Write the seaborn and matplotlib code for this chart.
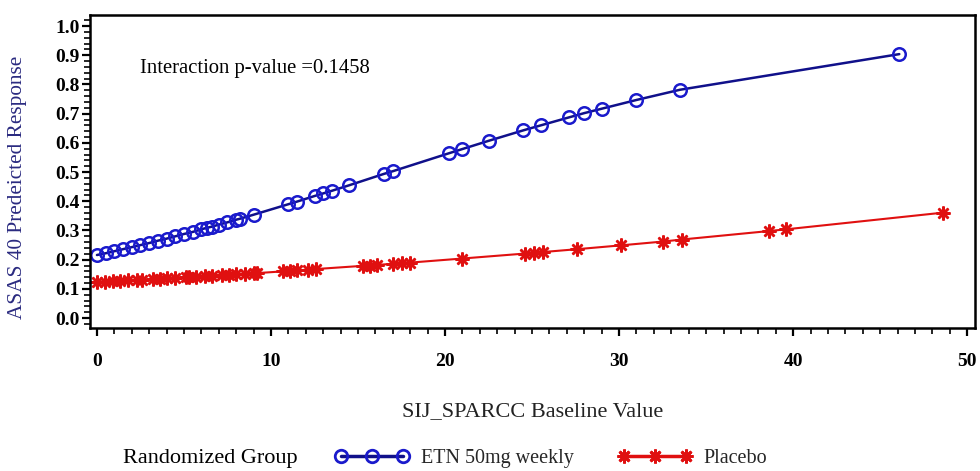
import matplotlib
matplotlib.use("Agg")
import matplotlib.pyplot as plt
from matplotlib.lines import Line2D
from matplotlib.ticker import MultipleLocator, FormatStrFormatter
import seaborn as sns
import pandas as pd

# ---- data ----
etn_x = [0, 0.5, 1.0, 1.5, 2.0, 2.5, 3.0, 3.5, 4.0, 4.5, 5.0, 5.5, 6.0, 6.3, 6.6,
         7.0, 7.5, 8.0, 8.2, 9.0, 11.0, 11.5, 12.5, 13.0, 13.5, 14.5, 16.5, 17.0,
         20.2, 21.0, 22.5, 24.5, 25.5, 27.1, 28.0, 29.0, 31.0, 33.5, 46.1]
etn_y = [0.216, 0.222, 0.229, 0.236, 0.243, 0.250, 0.257, 0.265, 0.272, 0.280,
         0.288, 0.295, 0.304, 0.309, 0.313, 0.320, 0.328, 0.337, 0.340, 0.354,
         0.390, 0.399, 0.418, 0.427, 0.436, 0.455, 0.494, 0.503, 0.564, 0.579,
         0.607, 0.643, 0.660, 0.687, 0.702, 0.717, 0.747, 0.782, 0.904]

pbo_x = [0, 0.46, 0.92, 1.3, 1.8, 2.3, 2.6, 3.2, 3.6, 4.0, 4.5, 5.1, 5.3, 5.7,
         6.2, 6.6, 7.2, 7.6, 8.0, 8.5, 9.0, 9.2, 10.7, 11.1, 11.5, 12.1, 12.6,
         15.3, 15.7, 16.1, 17.0, 17.5, 18.0, 21.0, 24.6, 25.1, 25.6, 27.6, 30.1,
         32.5, 33.6, 38.6, 39.6, 48.6]
pbo_y = [0.123, 0.1245, 0.126, 0.127, 0.129, 0.130, 0.131, 0.133, 0.135, 0.136,
         0.138, 0.140, 0.141, 0.142, 0.144, 0.145, 0.147, 0.149, 0.150, 0.152,
         0.154, 0.154, 0.160, 0.162, 0.163, 0.166, 0.168, 0.179, 0.180, 0.182,
         0.186, 0.188, 0.190, 0.204, 0.221, 0.224, 0.226, 0.236, 0.249, 0.262,
         0.269, 0.298, 0.304, 0.361]

groups = ["ETN 50mg weekly", "Placebo"]
x_ticks = [0, 10, 20, 30, 40, 50]
y_ticks = [0.0, 0.1, 0.2, 0.3, 0.4, 0.5, 0.6, 0.7, 0.8, 0.9, 1.0]

title_text = "Interaction p-value =0.1458"
xlabel = "SIJ_SPARCC Baseline Value"
ylabel = "ASAS 40 Predeicted Response"
legend_title = "Randomized Group"

df_etn = pd.DataFrame({"x": etn_x, "y": etn_y, "group": groups[0]})
df_pbo = pd.DataFrame({"x": pbo_x, "y": pbo_y, "group": groups[1]})

sns.set_theme(style="white")
plt.rcParams["font.family"] = ["Liberation Serif", "DejaVu Serif"]

fig = plt.figure(figsize=(9.8, 4.71), dpi=100)
ax = fig.add_axes([90 / 980, 1 - 328 / 471, (975 - 90) / 980, (328 - 15) / 471])

blue_line = "#10108a"
blue_mk = "#1a1acc"
red = "#e01010"

sns.lineplot(data=df_etn, x="x", y="y", ax=ax, color=blue_line, linewidth=1.8,
             marker="o", markersize=9, markerfacecolor="none",
             markeredgecolor=blue_mk, markeredgewidth=1.8, legend=False,
             estimator=None, sort=True)
sns.lineplot(data=df_pbo, x="x", y="y", ax=ax, color=red, linewidth=1.5,
             marker=(8, 2, 0), markersize=10, markeredgecolor=red,
             markeredgewidth=1.8, legend=False, estimator=None, sort=True)

ax.set_xlim(-0.4, 50.45)
ax.set_ylim(-0.034, 1.038)
ax.set_xticks(x_ticks)
ax.set_yticks(y_ticks)
ax.xaxis.set_minor_locator(MultipleLocator(1))
ax.yaxis.set_minor_locator(MultipleLocator(0.02))
ax.yaxis.set_major_formatter(FormatStrFormatter("%.1f"))
ax.tick_params(axis="both", which="major", direction="out", length=6, width=1.6,
               labelsize=14, colors="black", bottom=True, left=True)
ax.tick_params(axis="both", which="minor", direction="out", length=4, width=1.4,
               bottom=True, left=True)
ax.tick_params(axis="x", which="major", pad=12)
ax.tick_params(axis="y", which="major", pad=1.5)
for lab in ax.get_xticklabels() + ax.get_yticklabels():
    lab.set_fontweight("bold")

for s in ax.spines.values():
    s.set_visible(True)
    s.set_color("black")
    s.set_linewidth(1.8)

ax.set_xlabel(xlabel, fontsize=16, labelpad=23, color="#222222")
ax.set_ylabel(ylabel, fontsize=15.3, color="#2a2a80")
ax.yaxis.set_label_coords(-0.071, 0.45)

fig.text(140 / 980, 1 - 68 / 471, title_text, fontsize=14.9, color="black",
         va="center", ha="left")

handles = [
    Line2D([], [], color=blue_line, linewidth=2.5, marker="o", markersize=9,
           markerfacecolor="none", markeredgecolor=blue_mk, markeredgewidth=2),
    Line2D([], [], color=red, linewidth=2.5, marker=(8, 2, 0), markersize=10,
           markeredgecolor=red, markeredgewidth=2),
]
leg = fig.legend(handles, groups, loc="center left",
                 bbox_to_anchor=(335 / 980, 1 - 458 / 471), ncol=2, frameon=False,
                 fontsize=14.5, numpoints=3, handlelength=3.7, columnspacing=2.2,
                 handletextpad=0.55, borderpad=0, borderaxespad=0)
fig.text(123 / 980, 1 - 458 / 471, legend_title, fontsize=16, va="center",
         ha="left", color="black")

fig.savefig("out.png", dpi=100)
